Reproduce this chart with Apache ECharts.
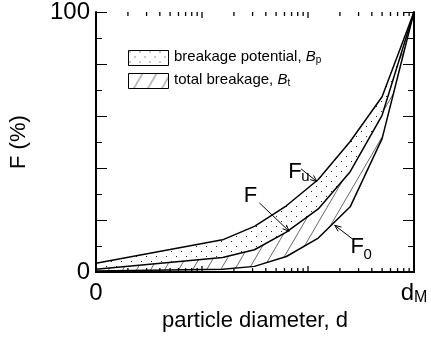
<!DOCTYPE html>
<html><head><meta charset="utf-8">
<script src="https://cdn.jsdelivr.net/npm/echarts@6/dist/echarts.min.js"></script>
<style>html,body{margin:0;padding:0;background:#fff}#c{width:431px;height:337px}</style>
</head><body><div id="c"></div>
<script>
// ---- data (x = d / dM, log scale; y = F in %) ----
const diameters = [0.001, 0.015625, 0.03125, 0.0625, 0.125, 0.25, 0.5, 1];
const Fu = [3.4, 12.4, 17.6, 25.5, 35.6, 50.2, 67.4, 100];
const F  = [1.1, 5.6, 8.6, 15.4, 24.3, 38.6, 60.3, 100];
const F0 = [0.4, 1.1, 2.2, 6.0, 13.1, 25.1, 51.3, 100];
const majorTickValues = [0.01, 0.1];
const minorTickValues = [0.002,0.003,0.004,0.005,0.006,0.007,0.008,0.009,
                         0.02,0.03,0.04,0.05,0.06,0.07,0.08,0.09,
                         0.2,0.3,0.4,0.5,0.6,0.7,0.8,0.9];
const xTickLabels = ['0', 'd', 'M'];
const yTickLabels = ['0', '100'];
// annotations (curve labels with arrows), in data coordinates
const annoMain = ['F', 'F', 'F'];
const annoSub  = ['u', '', '0'];
const annoX    = [0.065, 0.0247, 0.2523];
const annoY    = [38.6, 29.2, 9.7];
const arrowX0  = [0.086, 0.0348, 0.2635];
const arrowY0  = [39.7, 26.6, 12.7];
const arrowX1  = [0.1213, 0.0664, 0.1786];
const arrowY1  = [34.8, 15.7, 18.0];
const legendNames = ['breakage potential, ', 'total breakage, '];
const legendSymbols = ['B', 'B'];
const legendSubs = ['p', 't'];

const FONT = '"Liberation Sans", Arial, Helvetica, sans-serif';

function dotPattern(){
  const c = document.createElement('canvas'); c.width = 10; c.height = 10;
  const g = c.getContext('2d');
  g.fillStyle = '#222';
  g.fillRect(1,1,1,1); g.fillRect(6,6,1,1);
  return {image: c, repeat: 'repeat'};
}
function hatchPattern(){
  const w = 14, h = 24;
  const c = document.createElement('canvas'); c.width = w; c.height = h;
  const g = c.getContext('2d');
  g.strokeStyle = '#6a6a6a'; g.lineWidth = 1;
  for (const o of [-w, 0, w]) { g.beginPath(); g.moveTo(o, h); g.lineTo(o + w, 0); g.stroke(); }
  return {image: c, repeat: 'repeat'};
}
const dots = dotPattern(), hatch = hatchPattern();

const pairs = (ys)=>ys.map((v,i)=>[diameters[i], v]);

const chart = echarts.init(document.getElementById('c'), null, {renderer:'canvas'});
const near = (a,b)=>Math.abs(a-b) < 1e-9*Math.max(1,Math.abs(b));

const xCommon = {
  type:'log', logBase:10, min:0.001, max:1,
  axisLine:{show:true, lineStyle:{color:'#000', width:2}},
  axisTick:{show:false},
  splitLine:{show:false}
};
const yCommon = {
  type:'value', min:0, max:100, interval:20,
  axisLine:{show:true, lineStyle:{color:'#000', width:2}},
  axisTick:{show:true, inside:true, length:11, lineStyle:{color:'#000', width:1}},
  minorTick:{show:true, splitNumber:2, length:6, lineStyle:{color:'#000', width:1}},
  splitLine:{show:false}, minorSplitLine:{show:false}
};

// band between two curves, drawn through the axis scales
function bandSeries(name, upper, lower, fill){
  return {type:'custom', name, silent:true, z:2,
    data:[[diameters[0], 0]],
    renderItem:(p, api)=>{
      const pts = [];
      for (let i=0;i<diameters.length;i++) pts.push(api.coord([diameters[i], upper[i]]));
      for (let i=diameters.length-1;i>=0;i--) pts.push(api.coord([diameters[i], lower[i]]));
      return {type:'polygon', shape:{points:pts}, style:{fill:fill, stroke:null}};
    }};
}
// x-axis ticks (bottom and top, pointing inward) as small rect symbols
function tickSeries(name, values, yVal, len, dir){
  return {type:'scatter', name, silent:true, clip:false, z:8,
    data:values.map(v=>[v, yVal]),
    symbol:'rect', symbolSize:[1.3, len], symbolOffset:[0, dir*len/2],
    itemStyle:{color:'#000', opacity:1}, emphasis:{disabled:true}};
}

const option = {
  animation:false,
  backgroundColor:'#fff',
  grid:{left:93, right:17, top:11, bottom:59, containLabel:false},
  xAxis:[
    Object.assign({}, xCommon, {
      position:'bottom',
      name:'particle diameter, d', nameLocation:'middle', nameGap:30,
      nameTextStyle:{fontSize:22, color:'#000', fontFamily:FONT},
      axisLabel:{show:true, margin:9, color:'#000', fontSize:24, fontFamily:FONT,
        formatter:(v)=> near(v,0.001) ? xTickLabels[0] : (near(v,1) ? '{d|'+xTickLabels[1]+'}{m|'+xTickLabels[2]+'}' : ''),
        rich:{d:{fontSize:24, fontFamily:FONT, color:'#000', lineHeight:24, verticalAlign:'top'},
              m:{fontSize:16, fontFamily:FONT, color:'#000', lineHeight:16, verticalAlign:'bottom'}}
      }
    }),
    Object.assign({}, xCommon, {position:'top', axisLabel:{show:false}})
  ],
  yAxis:[
    Object.assign({}, yCommon, {
      position:'left',
      name:'F (%)', nameLocation:'middle', nameGap:66, nameRotate:90,
      nameTextStyle:{fontSize:22, color:'#000', fontFamily:FONT},
      axisLabel:{show:true, margin:6, color:'#000', fontSize:24, fontFamily:FONT,
        formatter:(v)=> v===0 ? yTickLabels[0] : (v===100 ? yTickLabels[1] : '')}
    }),
    Object.assign({}, yCommon, {position:'right', axisLabel:{show:false}})
  ],
  series:[
    bandSeries('breakage potential', Fu, F, dots),
    bandSeries('total breakage', F, F0, hatch),
    {type:'line', name:'Fu', data:pairs(Fu), symbol:'none', z:3, lineStyle:{color:'#000', width:1.5}},
    {type:'line', name:'F',  data:pairs(F),  symbol:'none', z:3, lineStyle:{color:'#000', width:1.5}},
    {type:'line', name:'F0', data:pairs(F0), symbol:'none', z:3, lineStyle:{color:'#000', width:1.5}},
    tickSeries('major ticks bottom', majorTickValues, 0, 6, -1),
    tickSeries('major ticks top', majorTickValues, 100, 6, 1),
    tickSeries('minor ticks bottom', minorTickValues, 0, 4, -1),
    tickSeries('minor ticks top', minorTickValues, 100, 4, 1),
    {type:'custom', name:'annotations', silent:true, clip:false, z:7,
     data:annoX.map((x,i)=>[x, annoY[i], arrowX0[i], arrowY0[i], arrowX1[i], arrowY1[i], i]),
     renderItem:(p, api)=>{
       const i = api.value(6);
       const tp = api.coord([api.value(0), api.value(1)]);
       const a0 = api.coord([api.value(2), api.value(3)]);
       const a1 = api.coord([api.value(4), api.value(5)]);
       const ang = Math.atan2(a1[1]-a0[1], a1[0]-a0[0]);
       const L = 7, s = 0.4;
       const h1 = [a1[0]-L*Math.cos(ang-s), a1[1]-L*Math.sin(ang-s)];
       const h2 = [a1[0]-L*Math.cos(ang+s), a1[1]-L*Math.sin(ang+s)];
       const children = [
         {type:'line', shape:{x1:a0[0], y1:a0[1], x2:a1[0], y2:a1[1]}, style:{stroke:'#000', lineWidth:1}},
         {type:'polyline', shape:{points:[h1, a1, h2]}, style:{stroke:'#000', lineWidth:1, fill:null}},
         {type:'text', x:tp[0], y:tp[1], style:{text:annoMain[i], font:'22px '+FONT, fill:'#000', align:'left', verticalAlign:'middle'}}
       ];
       if (annoSub[i]) children.push({type:'text', x:tp[0]+13, y:tp[1]+(i===0?5.6:7.6),
         style:{text:annoSub[i], font:'15px '+FONT, fill:'#000', align:'left', verticalAlign:'middle'}});
       return {type:'group', children};
     }}
  ],
  graphic:[
    {type:'rect', left:128, top:50, shape:{width:40, height:15}, style:{fill:dots, stroke:'#000', lineWidth:1}, z:10},
    {type:'rect', left:128, top:73, shape:{width:40, height:15}, style:{fill:hatch, stroke:'#000', lineWidth:1}, z:10},
    {type:'text', left:174, top:49, z:10, style:{
      text:'{n|'+legendNames[0]+'}{b|'+legendSymbols[0]+'}{s|'+legendSubs[0]+'}',
      rich:{n:{fontSize:15, fontFamily:FONT, fill:'#000', lineHeight:18},
            b:{fontSize:15, fontFamily:FONT, fontStyle:'italic', fill:'#000', lineHeight:18},
            s:{fontSize:10, fontFamily:FONT, fill:'#000', lineHeight:10, verticalAlign:'bottom'}}}},
    {type:'text', left:174, top:72, z:10, style:{
      text:'{n|'+legendNames[1]+'}{b|'+legendSymbols[1]+'}{s|'+legendSubs[1]+'}',
      rich:{n:{fontSize:15, fontFamily:FONT, fill:'#000', lineHeight:18},
            b:{fontSize:15, fontFamily:FONT, fontStyle:'italic', fill:'#000', lineHeight:18},
            s:{fontSize:10, fontFamily:FONT, fill:'#000', lineHeight:10, verticalAlign:'bottom'}}}}
  ]
};
chart.setOption(option);
</script>
</body></html>
